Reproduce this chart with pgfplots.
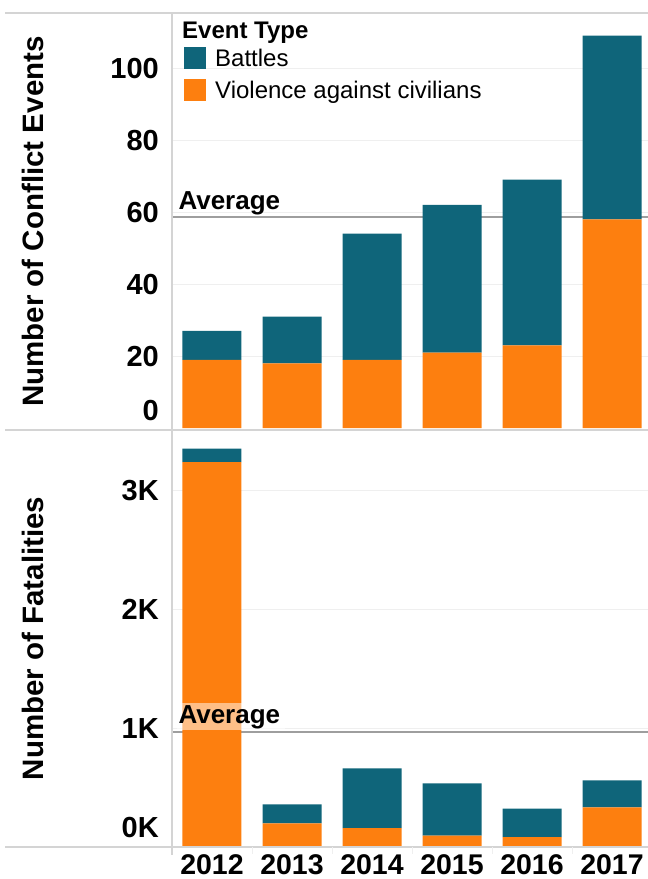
\documentclass[border=0pt]{standalone}
\usepackage{fontspec}
\setmainfont{Liberation Sans}
\usepackage{pgfplots}
\pgfplotsset{compat=1.18}
\definecolor{battle}{HTML}{0F657A}
\definecolor{vac}{HTML}{FD7F0F}
\definecolor{sepc}{HTML}{D4D4D4}
\definecolor{grd}{HTML}{EFEFEF}
\newcommand{\fs}[1]{\fontsize{#1}{#1}\selectfont}
\pgfplotsset{
  sq/.style={legend image code/.code={\fill[##1] (0pt,-11pt) rectangle (22pt,11pt);}},
  common/.style={
    scale only axis, width=476pt, height=417pt,
    xmin=-0.5, xmax=5.45,
    axis line style={draw=none},
    major tick length=0pt,
    ymajorgrids, major grid style={grd, line width=1pt},
    xtick={0,...,5},
    bar width=59pt,
    ybar stacked,
    scaled y ticks=false,
    /pgf/number format/assume math mode=true,
    yticklabel style={font=\fs{29}\bfseries, anchor=east, inner sep=0pt, xshift=-13pt},
    ylabel style={font=\fs{29.5}\bfseries, at={(axis description cs:-0.293,0.5)}, anchor=center},
  }
}
\begin{document}
\begin{tikzpicture}[x=1pt,y=1pt]
\useasboundingbox (0,0) rectangle (648,879);
% top panel
\begin{axis}[common, at={(172pt,449pt)}, anchor=south west,
  ymin=-0.5, ymax=115.3, ytick={20,40,60,80,100},
  extra y ticks={0}, extra y tick style={grid=none, yticklabel style={yshift=18pt}},
  xticklabels={},
  ylabel={Number of Conflict Events},
  reverse legend,
  legend style={at={(axis description cs:0,1)}, anchor=north west, xshift=12pt, yshift=-34pt,
    draw=none, fill=none, inner sep=0pt, font=\fs{24}, row sep=10pt, column sep=9pt,
    nodes={inner sep=0pt}},
  legend cell align=left]
\addplot[sq, fill=vac, draw=none] coordinates {(0,19) (1,18) (2,19) (3,21) (4,23) (5,58)};
\addlegendentry{Violence against civilians}
\addplot[sq, fill=battle, draw=none] coordinates {(0,8) (1,13) (2,35) (3,41) (4,46) (5,51)};
\addlegendentry{Battles}
\addplot[forget plot, sharp plot, stack plots=false, black, opacity=0.38, line width=2.5pt] coordinates {(-0.5,58.67) (5.45,58.67)};
\coordinate (avgA) at (axis cs:-0.5,58.67);
\coordinate (ttl) at (axis description cs:0,1);
\end{axis}
\node[anchor=base west, inner sep=0pt, font=\fs{26}\bfseries, xshift=6.3pt, yshift=7.4pt] at (avgA) {Average};
\node[anchor=base west, inner sep=0pt, font=\fs{24}\bfseries, xshift=10pt, yshift=-25.3pt] at (ttl) {Event Type};
% bottom panel
\begin{axis}[common, at={(172pt,32pt)}, anchor=south west,
  ymin=0, ymax=3513, ytick={1000,2000,3000}, yticklabels={1K,2K,3K},
  extra y ticks={0}, extra y tick labels={0K}, extra y tick style={grid=none, yticklabel style={yshift=19pt}},
  xticklabels={2012,2013,2014,2015,2016,2017},
  xticklabel style={font=\fs{28.5}\bfseries, anchor=north, inner sep=0pt, yshift=-7.5pt},
  ylabel={Number of Fatalities}]
\addplot[fill=vac, draw=none] coordinates {(0,3243) (1,200) (2,160) (3,95) (4,84) (5,334)};
\addplot[fill=battle, draw=none] coordinates {(0,113) (1,160) (2,503) (3,442) (4,239) (5,228)};
\addplot[forget plot, sharp plot, stack plots=false, black, opacity=0.38, line width=2.5pt] coordinates {(-0.5,967) (5.45,967)};
\coordinate (avgB) at (axis cs:-0.5,967);
\end{axis}
\begin{scope}
\fill[white, fill opacity=0.5] ([xshift=4.5pt,yshift=8.3pt]avgB) ++(0,-6pt) rectangle ++(108pt,27.3pt);
\end{scope}
\node[anchor=base west, inner sep=0pt, font=\fs{26}\bfseries, text=black, xshift=6.3pt, yshift=8.3pt] at (avgB) {Average};
% frame lines
\draw[sepc, line width=1.5pt] (5,866) -- (648,866);
\draw[sepc, line width=1.5pt] (5,449) -- (648,449);
\draw[sepc, line width=1.5pt] (5,32) -- (648,32);
\draw[sepc, line width=1.5pt] (172,866) -- (172,24);
\foreach \xx in {252,332,412,492,572} \draw[grd, line width=1pt] (\xx,32) -- (\xx,25);
\end{tikzpicture}
\end{document}
